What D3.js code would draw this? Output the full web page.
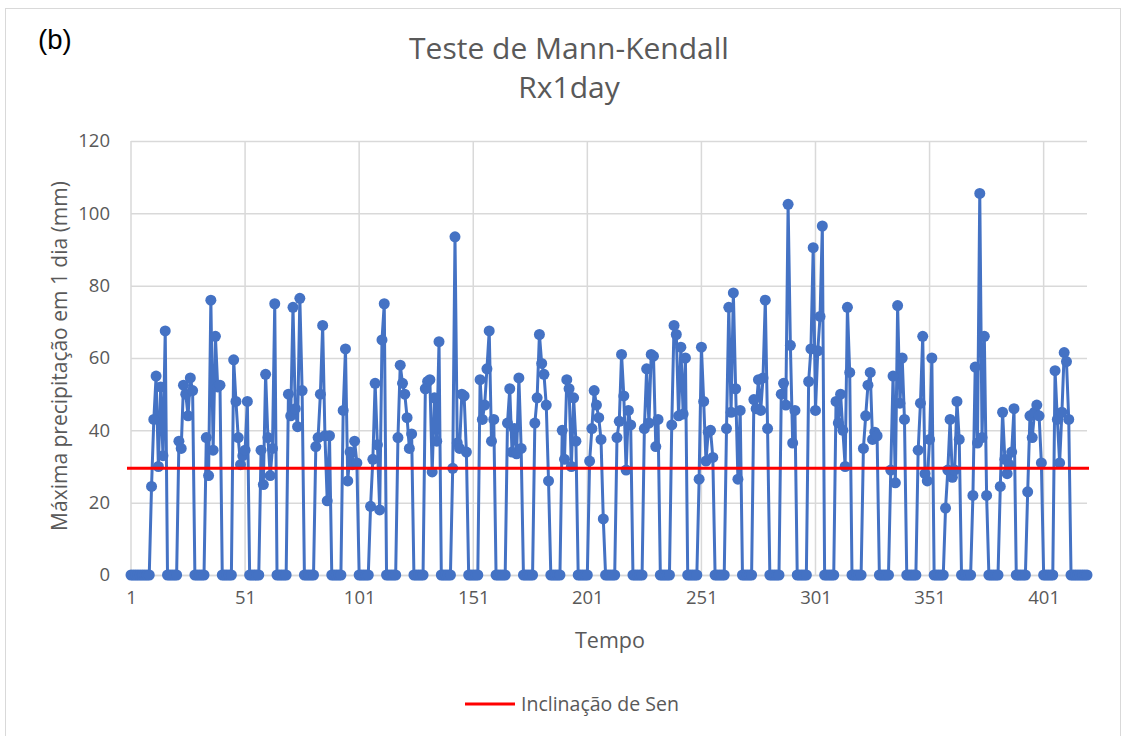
<!DOCTYPE html>
<html>
<head>
<meta charset="utf-8">
<script src="https://cdn.jsdelivr.net/npm/d3@7/dist/d3.min.js"></script>
<style>
  html, body { margin: 0; padding: 0; background: #fff; }
  svg { display: block; }
  text { font-family: "Open Sans", "Noto Sans", sans-serif; }
</style>
</head>
<body>
<svg id="chart" width="1128" height="736"></svg>
<script>
// Monthly Rx1day values (mm), one row per year, Jan..Dec
const rx1day = [
  0, 0, 0, 0, 0, 0, 0, 0, 0, 24.5, 43, 55,
  30, 52, 33, 67.5, 0, 0, 0, 0, 0, 37, 35, 52.5,
  50, 44, 54.5, 51, 0, 0, 0, 0, 0, 38, 27.5, 76,
  34.5, 66, 52, 52.5, 0, 0, 0, 0, 0, 59.5, 48, 38,
  30.5, 33, 34.5, 48, 0, 0, 0, 0, 0, 34.5, 25, 55.5,
  38, 27.5, 35, 75, 0, 0, 0, 0, 0, 50, 44, 74,
  46, 41, 76.5, 51, 0, 0, 0, 0, 0, 35.5, 38, 50,
  69, 38.5, 20.5, 38.5, 0, 0, 0, 0, 0, 45.5, 62.5, 26,
  34, 30.5, 37, 31, 0, 0, 0, 0, 0, 19, 32, 53,
  36, 18, 65, 75, 0, 0, 0, 0, 0, 38, 58, 53,
  50, 43.5, 35, 39, 0, 0, 0, 0, 0, 51.5, 53.5, 54,
  28.5, 49, 37, 64.5, 0, 0, 0, 0, 0, 29.5, 93.5, 36.5,
  35, 50, 49.5, 34, 0, 0, 0, 0, 0, 54, 43, 47,
  57, 67.5, 37, 43, 0, 0, 0, 0, 0, 42, 51.5, 34,
  40.5, 33.5, 54.5, 35, 0, 0, 0, 0, 0, 42, 49, 66.5,
  58.5, 55.5, 47, 26, 0, 0, 0, 0, 0, 40, 32, 54,
  51.5, 30, 49, 37, 0, 0, 0, 0, 0, 31.5, 40.5, 51,
  47, 43.5, 37.5, 15.5, 0, 0, 0, 0, 0, 38, 42.5, 61,
  49.5, 29, 45.5, 41.5, 0, 0, 0, 0, 0, 40.5, 57, 42,
  61, 60.5, 35.5, 43, 0, 0, 0, 0, 0, 41.5, 69, 66.5,
  44, 63, 44.5, 60, 0, 0, 0, 0, 0, 26.5, 63, 48,
  31.5, 39.5, 40, 32.5, 0, 0, 0, 0, 0, 40.5, 74, 45,
  78, 51.5, 26.5, 45.5, 0, 0, 0, 0, 0, 48.5, 46, 54,
  45.5, 54.5, 76, 40.5, 0, 0, 0, 0, 0, 50, 53, 47,
  102.5, 63.5, 36.5, 45.5, 0, 0, 0, 0, 0, 53.5, 62.5, 90.5,
  45.5, 62, 71.5, 96.5, 0, 0, 0, 0, 0, 48, 42, 50,
  40, 30, 74, 56, 0, 0, 0, 0, 0, 35, 44, 52.5,
  56, 37.5, 39.5, 38.5, 0, 0, 0, 0, 0, 29, 55, 25.5,
  74.5, 47.5, 60, 43, 0, 0, 0, 0, 0, 34.5, 47.5, 66,
  28, 26, 37.5, 60, 0, 0, 0, 0, 0, 18.5, 29, 43,
  27, 29, 48, 37.5, 0, 0, 0, 0, 0, 22, 57.5, 36.5,
  105.5, 38, 66, 22, 0, 0, 0, 0, 0, 24.5, 45, 32,
  28, 30.5, 34, 46, 0, 0, 0, 0, 0, 23, 44, 38,
  45, 47, 44, 31, 0, 0, 0, 0, 0, 56.5, 43, 31,
  45, 61.5, 59, 43, 0, 0, 0, 0, 0, 0, 0, 0
];
const senSlope = 29.5;            // Inclinação de Sen (constant level)
const xTickLabels = [1, 51, 101, 151, 201, 251, 301, 351, 401];
const yTickLabels = [0, 20, 40, 60, 80, 100, 120];
const titleLines = ["Teste de Mann-Kendall", "Rx1day"];
const panelLabel = "(b)";
const xTitle = "Tempo";
const yTitle = "Máxima precipitação em 1 dia (mm)";
const legendLabel = "Inclinação de Sen";

const data = rx1day.map((v, i) => ({ t: i + 1, v }));

const svg = d3.select("#chart");
const plot = { left: 131, right: 1087, top: 141, bottom: 575 };

const x = d3.scaleLinear().domain([1, rx1day.length]).range([plot.left, plot.right]);
const y = d3.scaleLinear().domain([0, 120]).range([plot.bottom, plot.top]);

// chart border
svg.append("rect")
  .attr("x", 5.5).attr("y", 8.5).attr("width", 1115).attr("height", 740)
  .attr("fill", "#fff").attr("stroke", "#d9d9d9").attr("stroke-width", 1);

// panel label
svg.append("text").attr("x", 38).attr("y", 49)
  .attr("font-size", 27.5).attr("fill", "#000")
  .style("font-family", "'Liberation Sans', Arial, sans-serif")
  .text(panelLabel);

// title
svg.selectAll("text.title").data(titleLines).enter().append("text")
  .attr("class", "title")
  .attr("x", 569).attr("y", (d, i) => 59 + i * 39)
  .attr("text-anchor", "middle")
  .attr("font-size", 30).attr("fill", "#595959")
  .text(d => d);

// horizontal gridlines
svg.append("g").selectAll("line").data(yTickLabels).enter().append("line")
  .attr("x1", plot.left).attr("x2", plot.right)
  .attr("y1", d => y(d) + 0.5).attr("y2", d => y(d) + 0.5)
  .attr("stroke", "#d9d9d9").attr("stroke-width", 1.5);

// vertical gridlines
svg.append("g").selectAll("line").data(xTickLabels).enter().append("line")
  .attr("x1", d => x(d)).attr("x2", d => x(d))
  .attr("y1", plot.top).attr("y2", plot.bottom)
  .attr("stroke", "#d9d9d9").attr("stroke-width", 1.5);

// y axis labels
const yAxis = d3.axisLeft(y).tickValues(yTickLabels).tickSize(0).tickPadding(21);
const gy = svg.append("g").attr("transform", `translate(${plot.left},0)`).call(yAxis);
gy.select(".domain").remove();
gy.selectAll("text").attr("font-size", 18.5).attr("fill", "#595959")
  .style("font-family", "'Open Sans', sans-serif");

// x axis labels
const xAxis = d3.axisBottom(x).tickValues(xTickLabels).tickFormat(d3.format("d")).tickSize(0).tickPadding(16);
const gx = svg.append("g").attr("transform", `translate(0,${plot.bottom})`).call(xAxis);
gx.select(".domain").attr("stroke", "#d9d9d9").attr("stroke-width", 1.5);
gx.selectAll("text").attr("font-size", 18.5).attr("fill", "#595959")
  .style("font-family", "'Open Sans', sans-serif");

// axis titles
svg.append("text").attr("x", 610).attr("y", 648)
  .attr("text-anchor", "middle").attr("font-size", 21.5).attr("fill", "#595959")
  .text(xTitle);
svg.append("text")
  .attr("transform", `translate(67,356) rotate(-90)`)
  .attr("text-anchor", "middle").attr("font-size", 21).attr("fill", "#595959")
  .text(yTitle);

// series line
const line = d3.line().x(d => x(d.t)).y(d => y(d.v));
svg.append("path").datum(data)
  .attr("d", line).attr("fill", "none")
  .attr("stroke", "#4472C4").attr("stroke-width", 3).attr("stroke-linejoin", "round");

// markers
svg.append("g").selectAll("circle").data(data).enter().append("circle")
  .attr("cx", d => x(d.t)).attr("cy", d => y(d.v)).attr("r", 5.5)
  .attr("fill", "#4472C4");

// Sen slope line
svg.append("line")
  .attr("x1", x(1) - 4).attr("x2", x(rx1day.length) + 2)
  .attr("y1", y(senSlope)).attr("y2", y(senSlope))
  .attr("stroke", "#FF0000").attr("stroke-width", 3);

// legend
svg.append("line").attr("x1", 465).attr("x2", 515).attr("y1", 704).attr("y2", 704)
  .attr("stroke", "#FF0000").attr("stroke-width", 3);
svg.append("text").attr("x", 521).attr("y", 711)
  .attr("font-size", 19.5).attr("fill", "#595959").text(legendLabel);
</script>
</body>
</html>
